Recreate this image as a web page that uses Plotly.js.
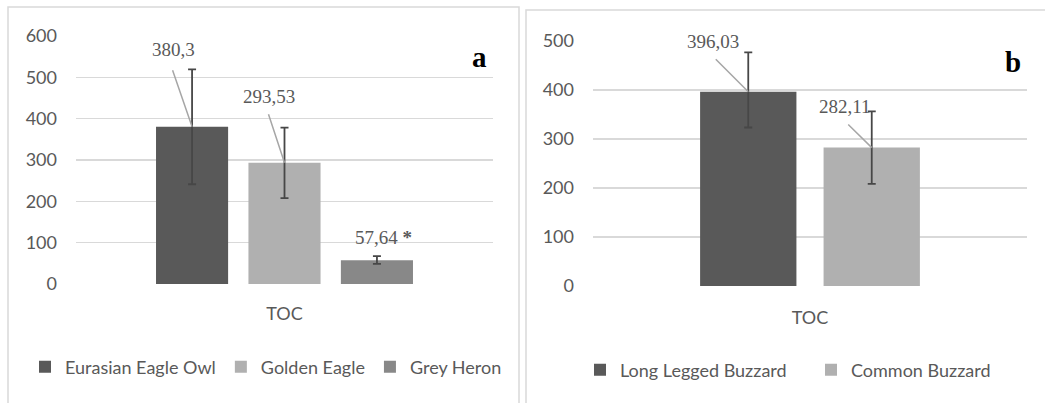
<!DOCTYPE html>
<html>
<head>
<meta charset="utf-8">
<script src="https://cdn.plot.ly/plotly-3.0.1.min.js"></script>
<style>html,body{margin:0;padding:0;background:#fff;}#chart{width:1045px;height:403px;}</style>
</head>
<body>
<div id="chart"></div>
<script>
// ---- Data ----
const category = ["TOC"];

const seriesA = ["Eurasian Eagle Owl", "Golden Eagle", "Grey Heron"];
const valuesA = [380.3, 293.53, 57.64];
const errPlusA = [139, 85, 10];
const errMinusA = [139, 86, 9];
const labelsA = ["380,3", "293,53", "57,64"];
const markA = ["", "", " <b>*</b>"];

const seriesB = ["Long Legged Buzzard", "Common Buzzard"];
const valuesB = [396.03, 282.11];
const errPlusB = [80, 74];
const errMinusB = [73, 74];
const labelsB = ["396,03", "282,11"];

const yTicksA = [0, 100, 200, 300, 400, 500, 600];
const yTicksB = [0, 100, 200, 300, 400, 500];

// ---- Styles ----
const colorsA = ["#595959", "#b0b0b0", "#888888"];
const colorsB = ["#595959", "#b0b0b0"];
const textColor = "#595959";
const gridColor = "#d9d9d9";
const leaderColor = "#a6a6a6";
const sansFont = "Lato, 'Open Sans', sans-serif";
const serifFont = "'Liberation Serif', 'DejaVu Serif', serif";

const W = 1045, H = 403;
const barGap = 0.335, barGroupGap = 0.22;
const rangeB = 0.5843;

function errStyle(plus, minus) {
  return {type: "data", array: [plus], arrayminus: [minus], visible: true,
          color: "#474747", thickness: 1.8, width: 4};
}

const traces = [];
seriesA.forEach((name, i) => {
  traces.push({
    type: "bar", name: name, x: category, y: [valuesA[i]],
    marker: {color: colorsA[i]}, xaxis: "x", yaxis: "y",
    error_y: errStyle(errPlusA[i], errMinusA[i]),
    legend: "legend", hoverinfo: "skip"
  });
});
seriesB.forEach((name, i) => {
  traces.push({
    type: "bar", name: name, x: category, y: [valuesB[i]],
    marker: {color: colorsB[i]}, xaxis: "x2", yaxis: "y2",
    error_y: errStyle(errPlusB[i], errMinusB[i]),
    legend: "legend2", hoverinfo: "skip"
  });
});

// bar centre positions (category units) derived from the grouping settings
function barCenter(i, n) {
  const slot = (1 - barGap) / n;
  return (i - (n - 1) / 2) * slot;
}

const labelFont = {family: serifFont, size: 19, color: textColor};
const annotations = [];
// label offsets [xshift, yshift] from the bar top, and leader-line start offsets [ax, ay]
const labelOffA = [[-19, 77], [-16, 66], [7, 23]];
const leaderA = [[-20, -58], [-16.5, -50], null];
const labelOffB = [[-35, 50], [-27, 41.5]];
const leaderB = [[-34, -34], [-25, -24.5]];

function addLabels(values, labels, marks, labelOff, leader, n, xr, yr) {
  values.forEach((v, i) => {
    const x = barCenter(i, n);
    annotations.push({xref: xr, yref: yr, x: x, y: v, text: labels[i] + (marks ? marks[i] : ""),
      font: labelFont, showarrow: false, xanchor: "center", yanchor: "middle",
      xshift: labelOff[i][0], yshift: labelOff[i][1]});
    if (leader[i]) {
      annotations.push({xref: xr, yref: yr, x: x, y: v, text: "", showarrow: true, arrowhead: 0,
        arrowwidth: 1.5, arrowcolor: leaderColor, ax: leader[i][0], ay: leader[i][1],
        standoff: 0, startstandoff: 0});
    }
  });
}
addLabels(valuesA, labelsA, markA, labelOffA, leaderA, 3, "x", "y");
addLabels(valuesB, labelsB, null, labelOffB, leaderB, 2, "x2", "y2");

// panel letters
annotations.push({xref: "paper", yref: "paper", x: 479 / W, y: 1 - 57 / H, text: "<b>a</b>",
  xanchor: "center", yanchor: "middle", showarrow: false, font: {family: serifFont, size: 29, color: "#000"}});
annotations.push({xref: "paper", yref: "paper", x: 1013 / W, y: 1 - 62 / H, text: "<b>b</b>",
  xanchor: "center", yanchor: "middle", showarrow: false, font: {family: serifFont, size: 29, color: "#000"}});

const tickFont = {family: sansFont, size: 18, color: textColor};
const legendFont = {family: sansFont, size: 18, color: textColor};

const layout = {
  width: W, height: H,
  margin: {l: 0, r: 0, t: 0, b: 0},
  paper_bgcolor: "#fff", plot_bgcolor: "#fff",
  barmode: "group", bargap: barGap, bargroupgap: barGroupGap,
  showlegend: true,
  xaxis: {domain: [76 / W, 493 / W], anchor: "y", type: "category", range: [-0.5, 0.5],
          showgrid: false, zeroline: false, showline: false, ticks: "",
          tickfont: tickFont, ticklabelstandoff: 17, fixedrange: true},
  yaxis: {domain: [1 - 284 / H, 1 - 36 / H], anchor: "x", range: [0, 600],
          tickvals: yTicksA, ticktext: yTicksA.map(String), showgrid: true, gridcolor: gridColor, gridwidth: 1.5,
          zeroline: false, showline: false, ticks: "", tickfont: tickFont, ticklabelstandoff: 18},
  xaxis2: {domain: [593 / W, 1027 / W], anchor: "y2", type: "category", range: [-rangeB, rangeB],
           showgrid: false, zeroline: false, showline: false, ticks: "",
           tickfont: tickFont, ticklabelstandoff: 19},
  yaxis2: {domain: [1 - 286 / H, 1 - 40.7 / H], anchor: "x2", range: [0, 500],
           tickvals: yTicksB, ticktext: yTicksB.map(String), showgrid: true, gridcolor: gridColor, gridwidth: 1.5,
           zeroline: false, showline: false, ticks: "", tickfont: tickFont, ticklabelstandoff: 18},
  legend: {orientation: "h", x: 266 / W, xanchor: "center", y: 1 - 367 / H, yanchor: "middle",
           font: legendFont, itemwidth: 30, bgcolor: "rgba(0,0,0,0)", traceorder: "normal"},
  legend2: {orientation: "h", x: 580 / W, xanchor: "left", y: 1 - 370 / H, yanchor: "middle",
            font: legendFont, itemwidth: 30, entrywidth: 186, bgcolor: "rgba(0,0,0,0)", traceorder: "normal"},
  annotations: annotations,
  shapes: [
    {type: "rect", xref: "paper", yref: "paper", x0: 8 / W, x1: 519 / W, y0: -0.05, y1: 1 - 7 / H,
     line: {color: gridColor, width: 1.5}},
    {type: "rect", xref: "paper", yref: "paper", x0: 526 / W, x1: 1.05, y0: -0.05, y1: 1 - 10 / H,
     line: {color: gridColor, width: 1.5}}
  ]
};

Plotly.newPlot("chart", traces, layout, {staticPlot: true, displayModeBar: false});
</script>
</body>
</html>
